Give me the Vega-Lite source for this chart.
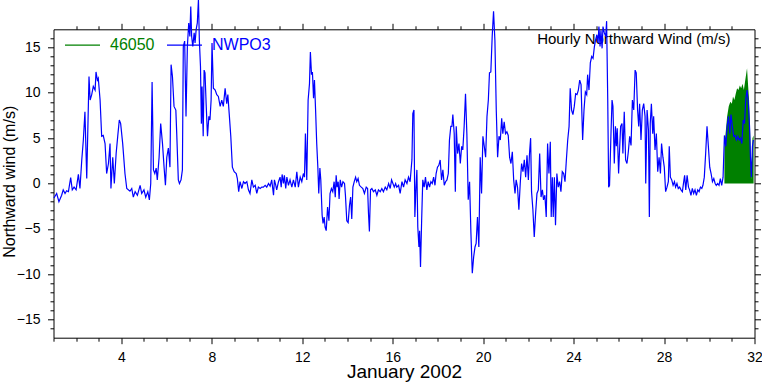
{
  "$schema": "https://vega.github.io/schema/vega-lite/v6.json",
  "width": 701,
  "height": 308.4,
  "autosize": "none",
  "padding": {"left": 53.5, "top": 29.3, "right": 7.5, "bottom": 44.3},
  "background": "white",
  "datasets": {
    "b46050": [
      {"day":30.67,"v":4.5,"series":"46050"},{"day":30.71,"v":5.2,"series":"46050"},{"day":30.79,"v":7.4,"series":"46050"},{"day":30.86,"v":8.5,"series":"46050"},{"day":30.93,"v":9.0,"series":"46050"},{"day":31.0,"v":8.8,"series":"46050"},{"day":31.05,"v":9.6,"series":"46050"},{"day":31.11,"v":9.2,"series":"46050"},{"day":31.17,"v":9.9,"series":"46050"},{"day":31.23,"v":10.5,"series":"46050"},{"day":31.29,"v":10.3,"series":"46050"},{"day":31.35,"v":10.8,"series":"46050"},{"day":31.41,"v":10.5,"series":"46050"},{"day":31.47,"v":11.0,"series":"46050"},{"day":31.53,"v":10.3,"series":"46050"},{"day":31.58,"v":11.2,"series":"46050"},{"day":31.64,"v":12.2,"series":"46050"},{"day":31.67,"v":12.7,"series":"46050"},{"day":31.72,"v":10.7,"series":"46050"},{"day":31.76,"v":9.2,"series":"46050"},{"day":31.82,"v":4.8,"series":"46050"},{"day":31.86,"v":0.4,"series":"46050"},{"day":31.91,"v":5.0,"series":"46050"},{"day":31.96,"v":5.3,"series":"46050"}
    ],
    "nwpo3": [
      {"day":1.02,"v":-1.6,"series":"NWPO3"},{"day":1.14,"v":-1.1,"series":"NWPO3"},{"day":1.24,"v":-2.0,"series":"NWPO3"},{"day":1.36,"v":-1.3,"series":"NWPO3"},{"day":1.43,"v":-0.7,"series":"NWPO3"},{"day":1.51,"v":-1.1,"series":"NWPO3"},{"day":1.58,"v":-0.8,"series":"NWPO3"},{"day":1.66,"v":-0.9,"series":"NWPO3"},{"day":1.76,"v":0.66,"series":"NWPO3"},{"day":1.83,"v":-0.7,"series":"NWPO3"},{"day":1.91,"v":-0.4,"series":"NWPO3"},{"day":2.0,"v":-0.7,"series":"NWPO3"},{"day":2.1,"v":1.0,"series":"NWPO3"},{"day":2.17,"v":-0.55,"series":"NWPO3"},{"day":2.25,"v":2.6,"series":"NWPO3"},{"day":2.32,"v":4.8,"series":"NWPO3"},{"day":2.39,"v":7.9,"series":"NWPO3"},{"day":2.47,"v":0.55,"series":"NWPO3"},{"day":2.57,"v":11.8,"series":"NWPO3"},{"day":2.62,"v":9.2,"series":"NWPO3"},{"day":2.69,"v":9.8,"series":"NWPO3"},{"day":2.76,"v":10.7,"series":"NWPO3"},{"day":2.84,"v":10.3,"series":"NWPO3"},{"day":2.88,"v":12.3,"series":"NWPO3"},{"day":2.94,"v":11.4,"series":"NWPO3"},{"day":2.98,"v":11.6,"series":"NWPO3"},{"day":3.06,"v":9.2,"series":"NWPO3"},{"day":3.13,"v":5.2,"series":"NWPO3"},{"day":3.2,"v":5.3,"series":"NWPO3"},{"day":3.28,"v":4.4,"series":"NWPO3"},{"day":3.35,"v":1.1,"series":"NWPO3"},{"day":3.43,"v":2.2,"series":"NWPO3"},{"day":3.5,"v":4.4,"series":"NWPO3"},{"day":3.54,"v":-0.55,"series":"NWPO3"},{"day":3.62,"v":2.9,"series":"NWPO3"},{"day":3.69,"v":0,"series":"NWPO3"},{"day":3.77,"v":3.3,"series":"NWPO3"},{"day":3.84,"v":5.2,"series":"NWPO3"},{"day":3.91,"v":7.0,"series":"NWPO3"},{"day":3.97,"v":6.6,"series":"NWPO3"},{"day":4.06,"v":4.4,"series":"NWPO3"},{"day":4.16,"v":1.1,"series":"NWPO3"},{"day":4.24,"v":-0.55,"series":"NWPO3"},{"day":4.38,"v":-0.85,"series":"NWPO3"},{"day":4.46,"v":-0.55,"series":"NWPO3"},{"day":4.53,"v":-1.5,"series":"NWPO3"},{"day":4.61,"v":-0.9,"series":"NWPO3"},{"day":4.71,"v":-1.3,"series":"NWPO3"},{"day":4.83,"v":-0.2,"series":"NWPO3"},{"day":4.9,"v":-1.1,"series":"NWPO3"},{"day":5.0,"v":-0.7,"series":"NWPO3"},{"day":5.08,"v":-1.5,"series":"NWPO3"},{"day":5.17,"v":-0.9,"series":"NWPO3"},{"day":5.24,"v":-1.8,"series":"NWPO3"},{"day":5.3,"v":0,"series":"NWPO3"},{"day":5.36,"v":11.2,"series":"NWPO3"},
      {"day":5.42,"v":1.5,"series":"NWPO3"},{"day":5.48,"v":1.1,"series":"NWPO3"},{"day":5.54,"v":1.7,"series":"NWPO3"},{"day":5.59,"v":0.4,"series":"NWPO3"},{"day":5.67,"v":2.9,"series":"NWPO3"},{"day":5.74,"v":6.6,"series":"NWPO3"},{"day":5.82,"v":4.4,"series":"NWPO3"},{"day":5.89,"v":1.8,"series":"NWPO3"},{"day":5.95,"v":-0.2,"series":"NWPO3"},{"day":6.01,"v":2.9,"series":"NWPO3"},{"day":6.08,"v":3.9,"series":"NWPO3"},{"day":6.15,"v":1.8,"series":"NWPO3"},{"day":6.2,"v":13.1,"series":"NWPO3"},{"day":6.26,"v":11.8,"series":"NWPO3"},{"day":6.33,"v":8.5,"series":"NWPO3"},{"day":6.41,"v":8.1,"series":"NWPO3"},{"day":6.45,"v":5.5,"series":"NWPO3"},{"day":6.52,"v":0.4,"series":"NWPO3"},{"day":6.57,"v":0,"series":"NWPO3"},{"day":6.64,"v":0.4,"series":"NWPO3"},{"day":6.7,"v":1.5,"series":"NWPO3"},{"day":6.74,"v":15.1,"series":"NWPO3"},{"day":6.8,"v":15.7,"series":"NWPO3"},{"day":6.86,"v":7.4,"series":"NWPO3"},{"day":6.92,"v":15.1,"series":"NWPO3"},{"day":6.98,"v":17.7,"series":"NWPO3"},{"day":7.03,"v":16.2,"series":"NWPO3"},{"day":7.07,"v":19.5,"series":"NWPO3"},{"day":7.11,"v":16.2,"series":"NWPO3"},{"day":7.16,"v":15.1,"series":"NWPO3"},{"day":7.22,"v":16.6,"series":"NWPO3"},{"day":7.26,"v":15.5,"series":"NWPO3"},{"day":7.31,"v":17.0,"series":"NWPO3"},{"day":7.36,"v":17.7,"series":"NWPO3"},{"day":7.41,"v":20.3,"series":"NWPO3"},{"day":7.45,"v":15.8,"series":"NWPO3"},{"day":7.5,"v":12.9,"series":"NWPO3"},{"day":7.54,"v":6.6,"series":"NWPO3"},{"day":7.57,"v":10.7,"series":"NWPO3"},{"day":7.62,"v":5.2,"series":"NWPO3"},{"day":7.66,"v":12.5,"series":"NWPO3"},{"day":7.7,"v":12.2,"series":"NWPO3"},{"day":7.75,"v":8.8,"series":"NWPO3"},{"day":7.81,"v":5.2,"series":"NWPO3"},{"day":7.87,"v":7.4,"series":"NWPO3"},{"day":7.92,"v":7.0,"series":"NWPO3"},{"day":7.97,"v":9.2,"series":"NWPO3"},{"day":8.01,"v":15.5,"series":"NWPO3"},{"day":8.07,"v":10.5,"series":"NWPO3"},{"day":8.15,"v":10.3,"series":"NWPO3"},{"day":8.22,"v":9.8,"series":"NWPO3"},{"day":8.29,"v":9.6,"series":"NWPO3"},{"day":8.37,"v":8.5,"series":"NWPO3"},{"day":8.44,"v":9.2,"series":"NWPO3"},{"day":8.51,"v":8.5,"series":"NWPO3"},{"day":8.59,"v":10.5,"series":"NWPO3"},{"day":8.66,"v":8.8,"series":"NWPO3"},{"day":8.71,"v":9.8,"series":"NWPO3"},{"day":8.77,"v":7.7,"series":"NWPO3"},{"day":8.84,"v":5.2,"series":"NWPO3"},{"day":8.91,"v":1.8,"series":"NWPO3"},{"day":8.99,"v":1.3,"series":"NWPO3"},{"day":9.08,"v":1.1,"series":"NWPO3"},{"day":9.13,"v":0.55,"series":"NWPO3"},{"day":9.19,"v":-0.9,"series":"NWPO3"},{"day":9.25,"v":0.2,"series":"NWPO3"},{"day":9.33,"v":-0.55,"series":"NWPO3"},{"day":9.4,"v":0.2,"series":"NWPO3"},{"day":9.47,"v":0,"series":"NWPO3"},{"day":9.55,"v":0.2,"series":"NWPO3"},{"day":9.62,"v":-0.7,"series":"NWPO3"},{"day":9.69,"v":-1.1,"series":"NWPO3"},
      {"day":9.77,"v":0.4,"series":"NWPO3"},{"day":9.84,"v":-0.4,"series":"NWPO3"},{"day":9.92,"v":-0.2,"series":"NWPO3"},{"day":9.99,"v":-1.1,"series":"NWPO3"},{"day":10.06,"v":-0.4,"series":"NWPO3"},{"day":10.14,"v":-0.55,"series":"NWPO3"},{"day":10.21,"v":-0.4,"series":"NWPO3"},{"day":10.28,"v":-0.4,"series":"NWPO3"},{"day":10.36,"v":-0.2,"series":"NWPO3"},{"day":10.43,"v":-0.4,"series":"NWPO3"},{"day":10.51,"v":0,"series":"NWPO3"},{"day":10.58,"v":-0.3,"series":"NWPO3"},{"day":10.65,"v":0.4,"series":"NWPO3"},{"day":10.73,"v":-1.3,"series":"NWPO3"},{"day":10.77,"v":0.4,"series":"NWPO3"},{"day":10.83,"v":-0.2,"series":"NWPO3"},{"day":10.87,"v":-0.7,"series":"NWPO3"},{"day":10.95,"v":0.2,"series":"NWPO3"},{"day":11.02,"v":0.7,"series":"NWPO3"},{"day":11.07,"v":-0.4,"series":"NWPO3"},{"day":11.11,"v":1.0,"series":"NWPO3"},{"day":11.17,"v":0,"series":"NWPO3"},{"day":11.21,"v":0.9,"series":"NWPO3"},{"day":11.27,"v":-0.55,"series":"NWPO3"},{"day":11.32,"v":0.7,"series":"NWPO3"},{"day":11.39,"v":-0.2,"series":"NWPO3"},{"day":11.46,"v":0.4,"series":"NWPO3"},{"day":11.54,"v":-0.4,"series":"NWPO3"},{"day":11.61,"v":0.4,"series":"NWPO3"},{"day":11.69,"v":-0.4,"series":"NWPO3"},{"day":11.76,"v":1.3,"series":"NWPO3"},{"day":11.83,"v":-0.4,"series":"NWPO3"},{"day":11.91,"v":0.7,"series":"NWPO3"},{"day":11.98,"v":0.2,"series":"NWPO3"},{"day":12.05,"v":1.1,"series":"NWPO3"},{"day":12.1,"v":0.7,"series":"NWPO3"},{"day":12.14,"v":5.5,"series":"NWPO3"},{"day":12.2,"v":0.4,"series":"NWPO3"},{"day":12.26,"v":9.2,"series":"NWPO3"},{"day":12.32,"v":11.0,"series":"NWPO3"},{"day":12.36,"v":14.5,"series":"NWPO3"},{"day":12.41,"v":12.0,"series":"NWPO3"},{"day":12.45,"v":12.3,"series":"NWPO3"},{"day":12.5,"v":9.4,"series":"NWPO3"},{"day":12.54,"v":11.4,"series":"NWPO3"},{"day":12.59,"v":8.1,"series":"NWPO3"},{"day":12.64,"v":4.4,"series":"NWPO3"},{"day":12.69,"v":1.8,"series":"NWPO3"},{"day":12.73,"v":-1.1,"series":"NWPO3"},{"day":12.78,"v":1.7,"series":"NWPO3"},{"day":12.82,"v":0.4,"series":"NWPO3"},{"day":12.88,"v":-3.5,"series":"NWPO3"},{"day":12.92,"v":-4.4,"series":"NWPO3"},{"day":12.97,"v":-3.7,"series":"NWPO3"},{"day":13.01,"v":-4.8,"series":"NWPO3"},{"day":13.06,"v":-5.2,"series":"NWPO3"},{"day":13.12,"v":-2.6,"series":"NWPO3"},{"day":13.18,"v":-4.1,"series":"NWPO3"},{"day":13.23,"v":-1.1,"series":"NWPO3"},{"day":13.29,"v":-0.55,"series":"NWPO3"},{"day":13.35,"v":-0.9,"series":"NWPO3"},{"day":13.41,"v":0.2,"series":"NWPO3"},{"day":13.46,"v":-1.5,"series":"NWPO3"},{"day":13.5,"v":0.9,"series":"NWPO3"},{"day":13.54,"v":-0.4,"series":"NWPO3"},{"day":13.59,"v":0.2,"series":"NWPO3"},{"day":13.63,"v":-1.7,"series":"NWPO3"},{"day":13.68,"v":0.4,"series":"NWPO3"},{"day":13.74,"v":-0.4,"series":"NWPO3"},{"day":13.8,"v":0.2,"series":"NWPO3"},{"day":13.87,"v":0,"series":"NWPO3"},{"day":13.91,"v":-1.3,"series":"NWPO3"},{"day":13.97,"v":-4.1,"series":"NWPO3"},{"day":14.03,"v":-4.3,"series":"NWPO3"},{"day":14.09,"v":-2.4,"series":"NWPO3"},{"day":14.14,"v":-1.5,"series":"NWPO3"},{"day":14.19,"v":-3.9,"series":"NWPO3"},
      {"day":14.24,"v":-0.4,"series":"NWPO3"},{"day":14.3,"v":0.2,"series":"NWPO3"},{"day":14.36,"v":0.7,"series":"NWPO3"},{"day":14.41,"v":0.2,"series":"NWPO3"},{"day":14.47,"v":0.55,"series":"NWPO3"},{"day":14.53,"v":-0.2,"series":"NWPO3"},{"day":14.61,"v":-0.4,"series":"NWPO3"},{"day":14.68,"v":-0.55,"series":"NWPO3"},{"day":14.75,"v":-1.1,"series":"NWPO3"},{"day":14.83,"v":-0.4,"series":"NWPO3"},{"day":14.89,"v":-0.55,"series":"NWPO3"},{"day":14.93,"v":-3.3,"series":"NWPO3"},{"day":14.97,"v":-5.3,"series":"NWPO3"},{"day":15.02,"v":-0.7,"series":"NWPO3"},{"day":15.08,"v":-0.55,"series":"NWPO3"},{"day":15.15,"v":-0.9,"series":"NWPO3"},{"day":15.23,"v":-0.7,"series":"NWPO3"},{"day":15.3,"v":-1.3,"series":"NWPO3"},{"day":15.37,"v":-0.7,"series":"NWPO3"},{"day":15.45,"v":-0.9,"series":"NWPO3"},{"day":15.52,"v":-0.55,"series":"NWPO3"},{"day":15.59,"v":-0.9,"series":"NWPO3"},{"day":15.67,"v":-0.4,"series":"NWPO3"},{"day":15.74,"v":-0.7,"series":"NWPO3"},{"day":15.82,"v":0,"series":"NWPO3"},{"day":15.89,"v":-0.55,"series":"NWPO3"},{"day":15.95,"v":0.4,"series":"NWPO3"},{"day":16.01,"v":0,"series":"NWPO3"},{"day":16.07,"v":-0.4,"series":"NWPO3"},{"day":16.13,"v":0,"series":"NWPO3"},{"day":16.18,"v":-0.4,"series":"NWPO3"},{"day":16.26,"v":-0.2,"series":"NWPO3"},{"day":16.33,"v":-1.1,"series":"NWPO3"},{"day":16.41,"v":0.2,"series":"NWPO3"},{"day":16.48,"v":-0.4,"series":"NWPO3"},{"day":16.55,"v":0.4,"series":"NWPO3"},{"day":16.63,"v":0,"series":"NWPO3"},{"day":16.7,"v":0.7,"series":"NWPO3"},{"day":16.77,"v":0.2,"series":"NWPO3"},{"day":16.85,"v":2.6,"series":"NWPO3"},{"day":16.89,"v":7.7,"series":"NWPO3"},{"day":16.94,"v":8.1,"series":"NWPO3"},{"day":16.98,"v":-3.7,"series":"NWPO3"},{"day":17.03,"v":-0.4,"series":"NWPO3"},{"day":17.07,"v":1.5,"series":"NWPO3"},{"day":17.11,"v":-4.8,"series":"NWPO3"},{"day":17.16,"v":-7.0,"series":"NWPO3"},{"day":17.19,"v":-5.2,"series":"NWPO3"},{"day":17.23,"v":-9.2,"series":"NWPO3"},{"day":17.28,"v":-4.1,"series":"NWPO3"},{"day":17.33,"v":0.4,"series":"NWPO3"},{"day":17.39,"v":-0.4,"series":"NWPO3"},{"day":17.45,"v":0.7,"series":"NWPO3"},{"day":17.51,"v":-0.7,"series":"NWPO3"},{"day":17.57,"v":0.2,"series":"NWPO3"},{"day":17.63,"v":-0.4,"series":"NWPO3"},{"day":17.69,"v":0.2,"series":"NWPO3"},{"day":17.75,"v":0,"series":"NWPO3"},{"day":17.81,"v":0.7,"series":"NWPO3"},{"day":17.87,"v":-0.2,"series":"NWPO3"},{"day":17.92,"v":1.1,"series":"NWPO3"},{"day":17.98,"v":1.8,"series":"NWPO3"},{"day":18.04,"v":2.0,"series":"NWPO3"},{"day":18.1,"v":2.6,"series":"NWPO3"},{"day":18.16,"v":0.4,"series":"NWPO3"},{"day":18.22,"v":1.5,"series":"NWPO3"},{"day":18.28,"v":-0.2,"series":"NWPO3"},{"day":18.34,"v":0.2,"series":"NWPO3"},{"day":18.4,"v":0.4,"series":"NWPO3"},{"day":18.46,"v":1.1,"series":"NWPO3"},{"day":18.51,"v":4.8,"series":"NWPO3"},{"day":18.57,"v":6.3,"series":"NWPO3"},
      {"day":18.62,"v":6.3,"series":"NWPO3"},{"day":18.66,"v":7.6,"series":"NWPO3"},{"day":18.72,"v":5.5,"series":"NWPO3"},{"day":18.77,"v":-0.9,"series":"NWPO3"},{"day":18.81,"v":6.3,"series":"NWPO3"},{"day":18.87,"v":3.3,"series":"NWPO3"},{"day":18.93,"v":4.4,"series":"NWPO3"},{"day":18.99,"v":2.2,"series":"NWPO3"},{"day":19.05,"v":4.1,"series":"NWPO3"},{"day":19.1,"v":3.7,"series":"NWPO3"},{"day":19.16,"v":6.3,"series":"NWPO3"},{"day":19.22,"v":9.9,"series":"NWPO3"},{"day":19.28,"v":5.5,"series":"NWPO3"},{"day":19.34,"v":-1.8,"series":"NWPO3"},{"day":19.4,"v":0.2,"series":"NWPO3"},{"day":19.46,"v":-5.5,"series":"NWPO3"},{"day":19.52,"v":-9.9,"series":"NWPO3"},{"day":19.58,"v":-8.1,"series":"NWPO3"},{"day":19.64,"v":-7.0,"series":"NWPO3"},{"day":19.69,"v":-6.6,"series":"NWPO3"},{"day":19.75,"v":-3.7,"series":"NWPO3"},{"day":19.81,"v":-7.0,"series":"NWPO3"},{"day":19.87,"v":2.9,"series":"NWPO3"},{"day":19.93,"v":-1.1,"series":"NWPO3"},{"day":19.99,"v":5.2,"series":"NWPO3"},{"day":20.05,"v":4.1,"series":"NWPO3"},{"day":20.11,"v":2.9,"series":"NWPO3"},{"day":20.17,"v":7.4,"series":"NWPO3"},{"day":20.23,"v":9.2,"series":"NWPO3"},{"day":20.28,"v":12.2,"series":"NWPO3"},{"day":20.34,"v":12.3,"series":"NWPO3"},{"day":20.4,"v":16.2,"series":"NWPO3"},{"day":20.46,"v":19.0,"series":"NWPO3"},{"day":20.52,"v":15.8,"series":"NWPO3"},{"day":20.58,"v":8.1,"series":"NWPO3"},{"day":20.64,"v":2.9,"series":"NWPO3"},{"day":20.7,"v":5.2,"series":"NWPO3"},{"day":20.76,"v":4.8,"series":"NWPO3"},{"day":20.82,"v":7.2,"series":"NWPO3"},{"day":20.87,"v":5.5,"series":"NWPO3"},{"day":20.93,"v":6.8,"series":"NWPO3"},{"day":20.99,"v":5.5,"series":"NWPO3"},{"day":21.05,"v":5.7,"series":"NWPO3"},{"day":21.11,"v":5.3,"series":"NWPO3"},{"day":21.17,"v":2.9,"series":"NWPO3"},{"day":21.23,"v":2.2,"series":"NWPO3"},{"day":21.29,"v":3.5,"series":"NWPO3"},{"day":21.35,"v":0.4,"series":"NWPO3"},{"day":21.41,"v":-1.1,"series":"NWPO3"},{"day":21.46,"v":0.4,"series":"NWPO3"},{"day":21.52,"v":-0.4,"series":"NWPO3"},{"day":21.58,"v":-2.9,"series":"NWPO3"},{"day":21.64,"v":0,"series":"NWPO3"},{"day":21.7,"v":2.2,"series":"NWPO3"},{"day":21.76,"v":1.3,"series":"NWPO3"},{"day":21.82,"v":2.6,"series":"NWPO3"},{"day":21.88,"v":0.7,"series":"NWPO3"},{"day":21.94,"v":3.1,"series":"NWPO3"},{"day":22.0,"v":0.4,"series":"NWPO3"},{"day":22.05,"v":3.3,"series":"NWPO3"},{"day":22.1,"v":5.0,"series":"NWPO3"},{"day":22.14,"v":-0.9,"series":"NWPO3"},{"day":22.2,"v":-2.9,"series":"NWPO3"},{"day":22.26,"v":-5.9,"series":"NWPO3"},{"day":22.32,"v":-3.3,"series":"NWPO3"},{"day":22.38,"v":-1.1,"series":"NWPO3"},{"day":22.44,"v":-0.7,"series":"NWPO3"},{"day":22.5,"v":3.3,"series":"NWPO3"},{"day":22.56,"v":-1.5,"series":"NWPO3"},{"day":22.62,"v":-0.7,"series":"NWPO3"},{"day":22.67,"v":-1.8,"series":"NWPO3"},{"day":22.73,"v":-1.3,"series":"NWPO3"},{"day":22.79,"v":-3.7,"series":"NWPO3"},{"day":22.85,"v":4.4,"series":"NWPO3"},{"day":22.91,"v":1.1,"series":"NWPO3"},{"day":22.97,"v":4.6,"series":"NWPO3"},
      {"day":23.01,"v":-3.7,"series":"NWPO3"},{"day":23.06,"v":0.7,"series":"NWPO3"},{"day":23.1,"v":-3.7,"series":"NWPO3"},{"day":23.15,"v":0.7,"series":"NWPO3"},{"day":23.2,"v":-4.6,"series":"NWPO3"},{"day":23.26,"v":1.1,"series":"NWPO3"},{"day":23.32,"v":-0.4,"series":"NWPO3"},{"day":23.38,"v":0.2,"series":"NWPO3"},{"day":23.44,"v":-0.9,"series":"NWPO3"},{"day":23.5,"v":1.3,"series":"NWPO3"},{"day":23.56,"v":1.1,"series":"NWPO3"},{"day":23.62,"v":0.2,"series":"NWPO3"},{"day":23.68,"v":2.6,"series":"NWPO3"},{"day":23.74,"v":4.8,"series":"NWPO3"},{"day":23.8,"v":6.3,"series":"NWPO3"},{"day":23.85,"v":10.5,"series":"NWPO3"},{"day":23.91,"v":8.1,"series":"NWPO3"},{"day":23.97,"v":7.6,"series":"NWPO3"},{"day":24.03,"v":8.5,"series":"NWPO3"},{"day":24.09,"v":9.9,"series":"NWPO3"},{"day":24.15,"v":9.8,"series":"NWPO3"},{"day":24.21,"v":10.3,"series":"NWPO3"},{"day":24.27,"v":11.4,"series":"NWPO3"},{"day":24.33,"v":10.9,"series":"NWPO3"},{"day":24.4,"v":4.8,"series":"NWPO3"},{"day":24.46,"v":8.1,"series":"NWPO3"},{"day":24.52,"v":10.1,"series":"NWPO3"},{"day":24.58,"v":9.8,"series":"NWPO3"},{"day":24.62,"v":12.0,"series":"NWPO3"},{"day":24.68,"v":10.3,"series":"NWPO3"},{"day":24.74,"v":13.3,"series":"NWPO3"},{"day":24.8,"v":14.0,"series":"NWPO3"},{"day":24.86,"v":13.8,"series":"NWPO3"},{"day":24.92,"v":15.1,"series":"NWPO3"},{"day":24.97,"v":15.8,"series":"NWPO3"},{"day":25.03,"v":16.4,"series":"NWPO3"},{"day":25.08,"v":15.5,"series":"NWPO3"},{"day":25.12,"v":17.3,"series":"NWPO3"},{"day":25.17,"v":15.1,"series":"NWPO3"},{"day":25.21,"v":16.9,"series":"NWPO3"},{"day":25.26,"v":14.9,"series":"NWPO3"},{"day":25.3,"v":17.3,"series":"NWPO3"},{"day":25.36,"v":16.6,"series":"NWPO3"},{"day":25.42,"v":16.2,"series":"NWPO3"},{"day":25.46,"v":17.9,"series":"NWPO3"},{"day":25.51,"v":9.2,"series":"NWPO3"},{"day":25.55,"v":-0.4,"series":"NWPO3"},{"day":25.59,"v":-0.2,"series":"NWPO3"},{"day":25.65,"v":5.2,"series":"NWPO3"},{"day":25.7,"v":9.2,"series":"NWPO3"},{"day":25.74,"v":8.5,"series":"NWPO3"},{"day":25.8,"v":2.2,"series":"NWPO3"},{"day":25.85,"v":6.3,"series":"NWPO3"},{"day":25.89,"v":4.1,"series":"NWPO3"},{"day":25.93,"v":6.1,"series":"NWPO3"},{"day":25.99,"v":1.1,"series":"NWPO3"},{"day":26.04,"v":4.1,"series":"NWPO3"},{"day":26.08,"v":6.3,"series":"NWPO3"},{"day":26.14,"v":6.6,"series":"NWPO3"},{"day":26.18,"v":3.3,"series":"NWPO3"},{"day":26.24,"v":7.9,"series":"NWPO3"},{"day":26.3,"v":2.6,"series":"NWPO3"},{"day":26.36,"v":2.2,"series":"NWPO3"},{"day":26.42,"v":3.5,"series":"NWPO3"},{"day":26.48,"v":5.2,"series":"NWPO3"},{"day":26.54,"v":4.2,"series":"NWPO3"},{"day":26.6,"v":9.2,"series":"NWPO3"},{"day":26.66,"v":8.1,"series":"NWPO3"},{"day":26.72,"v":12.5,"series":"NWPO3"},{"day":26.77,"v":12.2,"series":"NWPO3"},{"day":26.83,"v":8.1,"series":"NWPO3"},{"day":26.88,"v":6.3,"series":"NWPO3"},{"day":26.92,"v":8.8,"series":"NWPO3"},{"day":26.98,"v":4.8,"series":"NWPO3"},{"day":27.04,"v":8.1,"series":"NWPO3"},{"day":27.1,"v":8.8,"series":"NWPO3"},{"day":27.16,"v":7.4,"series":"NWPO3"},{"day":27.19,"v":0,"series":"NWPO3"},{"day":27.25,"v":8.1,"series":"NWPO3"},{"day":27.31,"v":5.9,"series":"NWPO3"},{"day":27.35,"v":-3.7,"series":"NWPO3"},{"day":27.39,"v":6.6,"series":"NWPO3"},{"day":27.44,"v":8.8,"series":"NWPO3"},
      {"day":27.5,"v":5.5,"series":"NWPO3"},{"day":27.54,"v":7.4,"series":"NWPO3"},{"day":27.6,"v":3.7,"series":"NWPO3"},{"day":27.66,"v":5.5,"series":"NWPO3"},{"day":27.72,"v":1.3,"series":"NWPO3"},{"day":27.78,"v":2.9,"series":"NWPO3"},{"day":27.84,"v":1.1,"series":"NWPO3"},{"day":27.89,"v":4.4,"series":"NWPO3"},{"day":27.95,"v":2.9,"series":"NWPO3"},{"day":28.01,"v":1.8,"series":"NWPO3"},{"day":28.07,"v":-0.9,"series":"NWPO3"},{"day":28.13,"v":-0.4,"series":"NWPO3"},{"day":28.19,"v":0.2,"series":"NWPO3"},{"day":28.23,"v":4.1,"series":"NWPO3"},{"day":28.28,"v":0.7,"series":"NWPO3"},{"day":28.34,"v":0.4,"series":"NWPO3"},{"day":28.4,"v":-0.2,"series":"NWPO3"},{"day":28.46,"v":0.2,"series":"NWPO3"},{"day":28.51,"v":-0.4,"series":"NWPO3"},{"day":28.57,"v":0,"series":"NWPO3"},{"day":28.63,"v":-0.55,"series":"NWPO3"},{"day":28.69,"v":-0.4,"series":"NWPO3"},{"day":28.75,"v":-0.7,"series":"NWPO3"},{"day":28.81,"v":-0.9,"series":"NWPO3"},{"day":28.87,"v":0.2,"series":"NWPO3"},{"day":28.91,"v":0.9,"series":"NWPO3"},{"day":28.96,"v":-0.7,"series":"NWPO3"},{"day":29.02,"v":0.9,"series":"NWPO3"},{"day":29.08,"v":-0.4,"series":"NWPO3"},{"day":29.13,"v":-0.7,"series":"NWPO3"},{"day":29.19,"v":-1.3,"series":"NWPO3"},{"day":29.25,"v":-0.55,"series":"NWPO3"},{"day":29.31,"v":-1.1,"series":"NWPO3"},{"day":29.37,"v":-0.7,"series":"NWPO3"},{"day":29.43,"v":-1.3,"series":"NWPO3"},{"day":29.49,"v":-0.7,"series":"NWPO3"},{"day":29.55,"v":-0.9,"series":"NWPO3"},{"day":29.61,"v":-0.4,"series":"NWPO3"},{"day":29.67,"v":-0.55,"series":"NWPO3"},{"day":29.72,"v":-0.2,"series":"NWPO3"},{"day":29.78,"v":0.7,"series":"NWPO3"},{"day":29.84,"v":3.3,"series":"NWPO3"},{"day":29.9,"v":6.3,"series":"NWPO3"},{"day":29.96,"v":4.1,"series":"NWPO3"},{"day":30.02,"v":1.8,"series":"NWPO3"},{"day":30.08,"v":1.1,"series":"NWPO3"},{"day":30.14,"v":0.2,"series":"NWPO3"},{"day":30.2,"v":0.55,"series":"NWPO3"},{"day":30.26,"v":0,"series":"NWPO3"},{"day":30.31,"v":-0.2,"series":"NWPO3"},{"day":30.37,"v":0,"series":"NWPO3"},{"day":30.43,"v":-0.2,"series":"NWPO3"},{"day":30.49,"v":0.55,"series":"NWPO3"},{"day":30.55,"v":-0.2,"series":"NWPO3"},{"day":30.61,"v":0.7,"series":"NWPO3"},{"day":30.67,"v":5.3,"series":"NWPO3"},{"day":30.73,"v":4.1,"series":"NWPO3"},{"day":30.79,"v":6.3,"series":"NWPO3"},{"day":30.85,"v":7.4,"series":"NWPO3"},{"day":30.91,"v":5.5,"series":"NWPO3"},{"day":30.96,"v":7.6,"series":"NWPO3"},{"day":31.02,"v":6.3,"series":"NWPO3"},{"day":31.08,"v":5.2,"series":"NWPO3"},{"day":31.14,"v":5.3,"series":"NWPO3"},{"day":31.2,"v":4.8,"series":"NWPO3"},{"day":31.26,"v":5.2,"series":"NWPO3"},{"day":31.32,"v":4.8,"series":"NWPO3"},{"day":31.38,"v":5.0,"series":"NWPO3"},{"day":31.44,"v":4.4,"series":"NWPO3"},{"day":31.5,"v":7.0,"series":"NWPO3"},{"day":31.56,"v":6.6,"series":"NWPO3"},{"day":31.61,"v":9.2,"series":"NWPO3"},{"day":31.67,"v":10.3,"series":"NWPO3"},{"day":31.73,"v":8.8,"series":"NWPO3"},{"day":31.78,"v":6.3,"series":"NWPO3"},{"day":31.82,"v":2.9,"series":"NWPO3"},{"day":31.86,"v":0.7,"series":"NWPO3"},{"day":31.91,"v":4.1,"series":"NWPO3"},{"day":31.95,"v":4.8,"series":"NWPO3"}
    ]
  },
  "resolve": {"axis": {"x": "independent", "y": "independent"}},
  "layer": [
    {
      "data": {"name": "b46050"},
      "mark": {"type": "area", "color": "#008000", "opacity": 1},
      "encoding": {
        "x": {"field": "day", "type": "quantitative", "scale": {"domain": [1, 32], "nice": false, "zero": false},
          "axis": {"orient": "top", "values": [2,3,4,5,6,7,8,9,10,11,12,13,14,15,16,17,18,19,20,21,22,23,24,25,26,27,28,29,30,31],
            "labels": false, "grid": false, "domainColor": "black", "tickColor": "black",
            "tickSize": {"condition": {"test": "datum.value % 4 === 0", "value": 6}, "value": 3.5},
            "title": "Hourly Northward Wind (m/s)", "titleX": 676.5, "titleY": 14, "titleAlign": "right", "titleAnchor": null,
            "titleBaseline": "alphabetic", "titleFont": "Liberation Sans", "titleFontSize": 15, "titleFontWeight": "normal", "titleColor": "black"}},
        "y": {"field": "v", "type": "quantitative", "scale": {"domain": [-17, 17], "nice": false, "zero": false},
          "axis": {"orient": "right", "values": [-16,-15,-14,-13,-12,-11,-10,-9,-8,-7,-6,-5,-4,-3,-2,-1,0,1,2,3,4,5,6,7,8,9,10,11,12,13,14,15,16],
            "labels": false, "grid": false, "title": null, "domainColor": "black", "tickColor": "black",
            "tickSize": {"condition": {"test": "datum.value % 5 === 0", "value": 6}, "value": 3.5}}}
      }
    },
    {
      "data": {"name": "nwpo3"},
      "mark": {"type": "line", "strokeWidth": 1.2},
      "encoding": {
        "x": {"field": "day", "type": "quantitative", "scale": {"domain": [1, 32], "nice": false, "zero": false},
          "axis": {"orient": "bottom", "values": [1,2,3,4,5,6,7,8,9,10,11,12,13,14,15,16,17,18,19,20,21,22,23,24,25,26,27,28,29,30,31,32],
            "labelExpr": "datum.value % 4 === 0 ? datum.label : ''", "labelFlush": false, "labelOverlap": false,
            "labelFont": "Liberation Sans", "labelFontSize": 14, "labelColor": "black", "labelPadding": 7,
            "grid": false, "domainColor": "black", "tickColor": "black",
            "tickSize": {"condition": {"test": "datum.value % 4 === 0", "value": 6}, "value": 3.5},
            "title": "January 2002", "titleFont": "Liberation Sans", "titleFontSize": 19, "titleFontWeight": "normal", "titleColor": "black",
            "titleX": 350.5, "titleY": 40, "titleBaseline": "alphabetic", "titleAlign": "center", "titleAnchor": null}},
        "y": {"field": "v", "type": "quantitative", "scale": {"domain": [-17, 17], "nice": false, "zero": false},
          "axis": {"orient": "left", "values": [-16,-15,-14,-13,-12,-11,-10,-9,-8,-7,-6,-5,-4,-3,-2,-1,0,1,2,3,4,5,6,7,8,9,10,11,12,13,14,15,16],
            "labelExpr": "datum.value % 5 === 0 ? datum.label : ''", "labelOverlap": false, "labelFlush": false,
            "labelFont": "Liberation Sans", "labelFontSize": 14, "labelColor": "black", "labelPadding": 7.5,
            "grid": false, "domainColor": "black", "tickColor": "black",
            "tickSize": {"condition": {"test": "datum.value % 5 === 0", "value": 6}, "value": 3.5},
            "title": "Northward wind (m/s)", "titleFont": "Liberation Sans", "titleFontSize": 16, "titleFontWeight": "normal", "titleColor": "black",
            "titleAngle": 270, "titleX": -39.5, "titleY": 152, "titleBaseline": "alphabetic", "titleAlign": "center", "titleAnchor": null}},
        "color": {"field": "series", "type": "nominal",
          "scale": {"domain": ["46050", "NWPO3"], "range": ["#008000", "#0000ff"]},
          "legend": {"orient": "none", "legendX": 10.5, "legendY": -3, "direction": "horizontal", "title": null,
            "symbolType": "stroke", "symbolSize": 1225, "symbolStrokeWidth": 1.2,
            "labelFont": "Liberation Sans", "labelFontSize": 16, "labelOffset": 9, "columnPadding": 9, "padding": 0,
            "encode": {"labels": {"update": {"fill": {"signal": "datum.value === 'NWPO3' ? '#0000ff' : '#008000'"}}}}}}
      }
    },
    {
      "mark": {"type": "rule", "color": "black", "strokeWidth": 1},
      "encoding": {"y": {"datum": 0, "type": "quantitative", "axis": null}}
    }
  ],
  "config": {"view": {"stroke": null}, "axis": {"domainWidth": 1, "tickWidth": 1}}
}
